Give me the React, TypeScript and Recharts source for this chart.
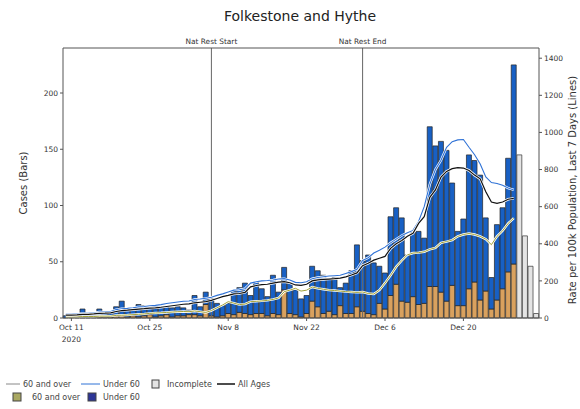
import React from "react";
import { ComposedChart, Bar, Line, XAxis, YAxis, ReferenceLine } from "recharts";

// day labels, Oct 10 2020 .. Jan 2 2021
const monthSpans: [string, number, number][] = [
  ["Oct", 10, 31],
  ["Nov", 1, 30],
  ["Dec", 1, 31],
  ["Jan", 1, 2],
];
const dates: string[] = [];
monthSpans.forEach(([m, a, b]) => {
  for (let d = a; d <= b; d++) dates.push(`${m} ${d}`);
});

const xTicks = ["Oct 11", "Oct 25", "Nov 8", "Nov 22", "Dec 6", "Dec 20"];
const leftTicks = [0, 50, 100, 150, 200];
const rightTicks = [0, 200, 400, 600, 800, 1000, 1200, 1400];

// cases per day (bars), Oct 10 .. Dec 29
const over60Cases = [
  0, 0, 0, 1, 0, 1, 1, 1, 1, 2, 2, 1, 2, 1, 2, 3, 1, 2, 3, 1, 2, 2, 3, 3, 2, 12, 2, 1, 2, 4,
  3, 5, 4, 3, 4, 4, 2, 4, 3, 25, 4, 3, 1, 4, 15, 10, 4, 6, 3, 11, 4, 4, 10, 6, 4, 3, 13, 8, 20, 30,
  15, 14, 19, 12, 13, 28, 28, 23, 15, 29, 11, 11, 26, 32, 16, 24, 8, 16, 26, 41, 48,
];
const under60Cases = [
  2, 1, 2, 7, 3, 2, 7, 3, 4, 8, 13, 6, 7, 11, 9, 7, 10, 8, 7, 8, 8, 7, 4, 17, 8, 11, 15, 12, 9, 9,
  21, 22, 27, 17, 28, 22, 17, 34, 20, 20, 27, 22, 16, 16, 31, 32, 34, 29, 33, 16, 27, 38, 55, 45, 52, 46, 33, 32, 70, 68,
  74, 42, 57, 65, 58, 142, 125, 134, 134, 91, 66, 77, 119, 108, 111, 65, 28, 67, 72, 101, 177,
];
// Dec 30 .. Jan 2
const incompleteCases = [145, 73, 46, 4];

// rate per 100k, last 7 days (lines), Oct 10 .. Dec 29
const rateOver60 = [
  5, 5, 6, 8, 8, 8, 10, 10, 10, 14, 15, 16, 18, 20, 22, 25, 27, 28, 30, 32, 34, 35, 34, 38, 34, 30, 40, 55, 70, 88,
  80, 72, 75, 88, 90, 92, 95, 100, 108, 142, 150, 160, 145, 150, 167, 160, 155, 150, 148, 145, 142, 140, 138, 140, 132, 129, 150, 188, 230, 276,
  310, 340, 350, 352, 357, 370, 378, 405, 412, 420, 440, 450, 455, 450, 440, 425, 395, 440, 470, 510, 538,
];
const rateUnder60 = [
  20, 20, 22, 25, 25, 28, 32, 32, 35, 45, 50, 52, 55, 60, 62, 66, 68, 72, 78, 82, 86, 90, 92, 100, 102, 106, 112, 122, 130, 140,
  150, 152, 158, 188, 195, 200, 202, 205, 210, 212, 205, 192, 190, 195, 212, 218, 222, 226, 228, 230, 240, 250, 262, 310, 325, 350, 365, 382, 405, 425,
  445, 460, 472, 520, 600, 720, 800, 850, 920, 950, 960, 962, 920, 880, 830, 760, 730, 725, 715, 700, 690,
];
const rateAll = [
  15, 15, 17, 20, 20, 22, 25, 26, 28, 35, 40, 42, 45, 48, 50, 53, 55, 58, 62, 66, 70, 74, 76, 82, 85, 88, 95, 105, 115, 122,
  130, 132, 138, 168, 175, 180, 182, 188, 193, 196, 190, 178, 176, 182, 200, 205, 208, 210, 212, 215, 222, 232, 243, 282, 295, 312, 322, 332, 375, 400,
  418, 440, 457, 510, 546, 650, 690, 760, 790, 805, 810, 808, 795, 770, 750, 680, 625, 618, 625, 640, 645,
];

const rows = dates.map((date, i) => ({
  date,
  over60: i < over60Cases.length ? over60Cases[i] : null,
  under60: i < under60Cases.length ? under60Cases[i] : null,
  incomplete: i >= over60Cases.length ? incompleteCases[i - over60Cases.length] : null,
  r60: i < rateOver60.length ? rateOver60[i] : null,
  rU60: i < rateUnder60.length ? rateUnder60[i] : null,
  rAll: i < rateAll.length ? rateAll[i] : null,
}));

const BLUE = "#1860c4";
const ORANGE = "#d9a15e";
const GREY = "#e4e4e4";
const L60 = "#a2a23a";
const LU60 = "#2f72d6";
const FONT = "DejaVu Sans";

const DateTick = ({ x, y, payload }: any) => (
  <g>
    <text x={x} y={y + 7} textAnchor="middle" fontSize={7.5} fill="#333" fontFamily={FONT}>
      {payload.value}
    </text>
    {payload.value === "Oct 11" && (
      <text x={x} y={y + 19} textAnchor="middle" fontSize={7.5} fill="#333" fontFamily={FONT}>
        2020
      </text>
    )}
  </g>
);

function Legend() {
  const t = { fontSize: 8, fill: "#444", fontFamily: FONT };
  return (
    <g>
      <line x1={6} x2={20} y1={384} y2={384} stroke="#888" strokeWidth={1} />
      <text x={23} y={387} {...t}>60 and over</text>
      <line x1={81} x2={100} y1={384} y2={384} stroke={LU60} strokeWidth={1} />
      <text x={103} y={387} {...t}>Under 60</text>
      <rect x={152} y={380} width={7} height={8} fill={GREY} stroke="#444" strokeWidth={1} />
      <text x={167} y={387} {...t}>Incomplete</text>
      <line x1={217} x2={235} y1={384} y2={384} stroke="#111" strokeWidth={1.5} />
      <text x={238} y={387} {...t}>All Ages</text>
      <rect x={13} y={393} width={8} height={8} fill="#a9a862" stroke="#444" strokeWidth={1} />
      <text x={32} y={400} {...t}>60 and over</text>
      <rect x={88} y={393} width={8} height={8} fill="#2d3596" stroke="#444" strokeWidth={1} />
      <text x={103} y={400} {...t}>Under 60</text>
    </g>
  );
}

export default function App() {
  return (
    <div style={{ position: "absolute", left: 0, top: 0, width: 580, height: 409, background: "#fff" }}>
      <ComposedChart
        width={580}
        height={409}
        data={rows}
        margin={{ top: 48, right: 0, bottom: 61, left: 0 }}
        barCategoryGap="4%"
      >
        <XAxis
          dataKey="date"
          ticks={xTicks}
          tick={<DateTick />}
          tickSize={3}
          stroke="#555"
          height={30}
          interval={0}
        />
        <YAxis
          yAxisId="left"
          domain={[0, 240]}
          ticks={leftTicks}
          width={63}
          tickSize={3}
          stroke="#555"
          tick={{ fontSize: 7.5, fill: "#333", fontFamily: FONT }}
        />
        <YAxis
          yAxisId="right"
          orientation="right"
          domain={[0, 1455]}
          ticks={rightTicks}
          width={41}
          tickSize={3}
          stroke="#555"
          tick={{ fontSize: 7.5, fill: "#333", fontFamily: FONT }}
        />
        <Bar yAxisId="left" dataKey="over60" stackId="a" fill={ORANGE} stroke="#222" strokeWidth={0.7} isAnimationActive={false} />
        <Bar yAxisId="left" dataKey="under60" stackId="a" fill={BLUE} stroke="#222" strokeWidth={0.7} isAnimationActive={false} />
        <Bar yAxisId="left" dataKey="incomplete" stackId="a" fill={GREY} stroke="#333" strokeWidth={0.7} isAnimationActive={false} />
        <ReferenceLine
          yAxisId="left"
          x="Nov 5"
          stroke="#666"
          strokeWidth={1}
          label={{ value: "Nat Rest Start", position: "top", offset: 4, fontSize: 7.4, fill: "#333", fontFamily: FONT }}
        />
        <ReferenceLine
          yAxisId="left"
          x="Dec 2"
          stroke="#666"
          strokeWidth={1}
          label={{ value: "Nat Rest End", position: "top", offset: 4, fontSize: 7.4, fill: "#333", fontFamily: FONT }}
        />
        <ReferenceLine yAxisId="left" y={240} stroke="#555" />
        <Line yAxisId="right" dataKey="r60" stroke="#fff" strokeWidth={2.4} dot={false} isAnimationActive={false} />
        <Line yAxisId="right" dataKey="r60" stroke={L60} strokeWidth={1} dot={false} isAnimationActive={false} />
        <Line yAxisId="right" dataKey="rU60" stroke="#fff" strokeWidth={2.4} dot={false} isAnimationActive={false} />
        <Line yAxisId="right" dataKey="rU60" stroke={LU60} strokeWidth={1.1} dot={false} isAnimationActive={false} />
        <Line yAxisId="right" dataKey="rAll" stroke="#fff" strokeWidth={2.6} dot={false} isAnimationActive={false} />
        <Line yAxisId="right" dataKey="rAll" stroke="#111" strokeWidth={1.2} dot={false} isAnimationActive={false} />
      </ComposedChart>
      <svg width={580} height={409} style={{ position: "absolute", left: 0, top: 0, pointerEvents: "none" }}>
        <text x={300} y={21} textAnchor="middle" fontSize={14} fill="#222" fontFamily={FONT}>
          Folkestone and Hythe
        </text>
        <text
          transform="translate(27,183) rotate(-90)"
          textAnchor="middle"
          fontSize={10}
          fill="#333"
          fontFamily={FONT}
        >
          Cases (Bars)
        </text>
        <text
          transform="translate(576,190) rotate(-90)"
          textAnchor="middle"
          fontSize={10}
          fill="#333"
          fontFamily={FONT}
        >
          Rate per 100k Population, Last 7 Days (Lines)
        </text>
        <Legend />
      </svg>
    </div>
  );
}
